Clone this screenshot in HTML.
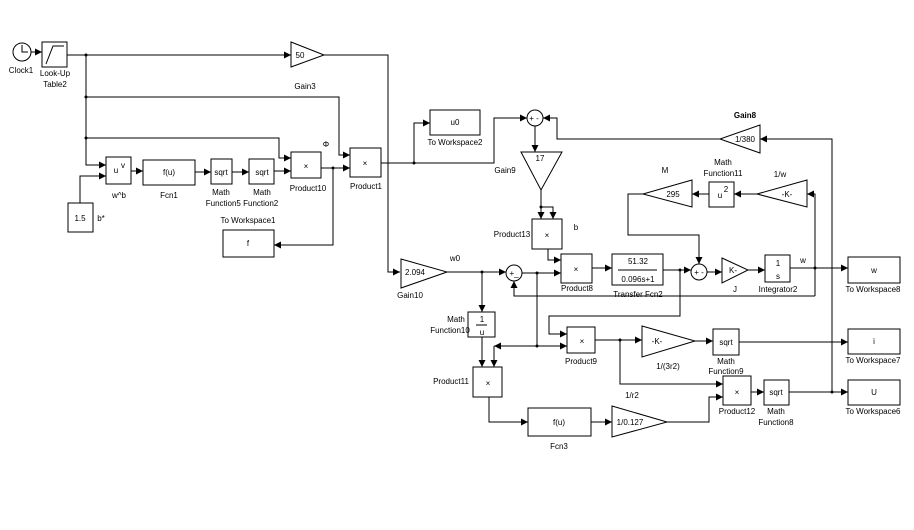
<!DOCTYPE html>
<html><head><meta charset="utf-8"><style>
html,body{margin:0;padding:0;background:#fff}
svg{display:block}
text{font-family:"Liberation Sans",Arial,sans-serif;font-size:8px;fill:#000}
</style></head><body>
<svg width="914" height="530" viewBox="0 0 914 530" xmlns="http://www.w3.org/2000/svg">
<defs><marker id="a" markerWidth="8" markerHeight="8" refX="7" refY="4" orient="auto" markerUnits="userSpaceOnUse"><path d="M0,0.5 L7,4 L0,7.5 z" fill="#000"/></marker></defs>
<g fill="none" stroke="#000" stroke-width="1" marker-end="url(#a)">
<path d="M31,52 H42"/>
<path d="M67,55 H291"/>
<path d="M324,55 H388 V272 H400"/>
<path d="M86,55 V165 H106"/>
<path d="M86,97 H339 V155 H350"/>
<path d="M86,138 H279 V158 H291"/>
<path d="M80,203 V176 H106"/>
<path d="M131,171 H143"/>
<path d="M195,172 H211"/>
<path d="M232,172 H249"/>
<path d="M274,171 H291"/>
<path d="M321,168 H350"/>
<path d="M333,168 V245 H274"/>
<path d="M381,163 H414 V123 H430"/>
<path d="M414,163 H494 V118 H527"/>
<path d="M720,139 H557 V118 H543"/>
<path d="M535,126 V152"/>
<path d="M541,190 V219"/>
<path d="M541,207 H553 V219"/>
<path d="M548,249 V260 H561"/>
<path d="M446,272 H506"/>
<path d="M482,272 V312"/>
<path d="M522,273 H561"/>
<path d="M537,273 V346 H567"/>
<path d="M494,346 V367"/>
<path d="M537,346 H494"/>
<path d="M815,296 H514 V281"/>
<path d="M592,268 H612"/>
<path d="M663,270 H691"/>
<path d="M680,270 V316 H549 V334 H567"/>
<path d="M707,272 H722"/>
<path d="M748,270 H765"/>
<path d="M790,268 H848"/>
<path d="M815,268 V194 H807"/>
<path d="M757,194 H734"/>
<path d="M709,194 H692"/>
<path d="M643,194 H628 V235 H699 V264"/>
<path d="M595,340 H642"/>
<path d="M695,341 H713"/>
<path d="M739,342 H848"/>
<path d="M620,340 V384 H723"/>
<path d="M751,392 H764"/>
<path d="M789,392 H848"/>
<path d="M832,392 V139 H760"/>
<path d="M482,337 V367"/>
<path d="M489,397 V422 H528"/>
<path d="M591,422 H612"/>
<path d="M667,422 H709 V397 H723"/>
</g>
<path d="M815,268 V296" stroke="#000" fill="none"/>
<g fill="#000"><circle cx="86" cy="55" r="1.5"/><circle cx="86" cy="97" r="1.5"/><circle cx="86" cy="138" r="1.5"/><circle cx="333" cy="168" r="1.5"/><circle cx="414" cy="163" r="1.5"/><circle cx="482" cy="272" r="1.5"/><circle cx="537" cy="273" r="1.5"/><circle cx="537" cy="346" r="1.5"/><circle cx="680" cy="270" r="1.5"/><circle cx="815" cy="268" r="1.5"/><circle cx="620" cy="340" r="1.5"/><circle cx="832" cy="392" r="1.5"/><circle cx="541" cy="207" r="1.5"/></g>
<g fill="#fff" stroke="#000" stroke-width="1">
<circle cx="22" cy="52" r="9"/>
<rect x="42" y="42" width="25" height="25"/>
<polygon points="291,42 324,55 291,67"/>
<rect x="106" y="157" width="25" height="27"/>
<rect x="68" y="203" width="25" height="29"/>
<rect x="143" y="160" width="52" height="25"/>
<rect x="211" y="159" width="21" height="25"/>
<rect x="249" y="159" width="25" height="25"/>
<rect x="291" y="152" width="30" height="26"/>
<rect x="350" y="148" width="31" height="29"/>
<rect x="223" y="230" width="51" height="27"/>
<rect x="430" y="110" width="50" height="25"/>
<circle cx="535" cy="118" r="8"/>
<polygon points="760,125 720,139 760,153"/>
<polygon points="521,152 562,152 541,190"/>
<rect x="532" y="219" width="30" height="30"/>
<rect x="561" y="254" width="31" height="29"/>
<polygon points="401,259 447,272 401,288"/>
<circle cx="514" cy="273" r="8"/>
<rect x="468" y="312" width="27" height="25"/>
<rect x="612" y="254" width="51" height="31"/>
<circle cx="699" cy="272" r="8"/>
<polygon points="722,258 748,270 722,283"/>
<rect x="765" y="255" width="25" height="27"/>
<rect x="848" y="257" width="52" height="26"/>
<polygon points="807,180 757,194 807,207"/>
<rect x="709" y="182" width="25" height="25"/>
<polygon points="692,180 643,194 692,207"/>
<rect x="567" y="327" width="28" height="26"/>
<polygon points="642,326 695,341 642,357"/>
<rect x="713" y="329" width="26" height="26"/>
<rect x="848" y="329" width="52" height="25"/>
<rect x="723" y="376" width="28" height="29"/>
<rect x="764" y="380" width="25" height="25"/>
<rect x="848" y="380" width="52" height="25"/>
<rect x="473" y="367" width="29" height="30"/>
<rect x="528" y="408" width="63" height="28"/>
<polygon points="612,406 667,422 612,437"/>
</g>
<g stroke="#000" fill="none"><path d="M22,45 V52 H28"/><path d="M46,64 L53,46 H64"/><path d="M476,325 H487"/><path d="M618,270 H657"/></g>
<g text-anchor="middle">
<text x="21" y="73">Clock1</text>
<text x="55" y="76">Look-Up</text><text x="55" y="87">Table2</text>
<text x="300" y="58">50</text><text x="305" y="89">Gain3</text>
<text x="116" y="173">u</text><text x="123" y="168" font-size="6">v</text><text x="119" y="198">w^b</text>
<text x="80" y="221">1.5</text><text x="101" y="221">b*</text>
<text x="169" y="175">f(u)</text><text x="169" y="198">Fcn1</text>
<text x="221" y="175">sqrt</text><text x="221" y="195">Math</text>
<text x="262" y="175">sqrt</text><text x="262" y="195">Math</text>
<text x="242" y="206">Function5 Function2</text>
<text x="306" y="169" font-size="10">×</text><text x="308" y="191">Product10</text><text x="326" y="147">Φ</text>
<text x="365" y="166" font-size="10">×</text><text x="366" y="189">Product1</text>
<text x="248" y="223">To Workspace1</text><text x="248" y="246">f</text>
<text x="455" y="125">u0</text><text x="455" y="145">To Workspace2</text>
<text x="534" y="121">+ -</text>
<text x="745" y="142">1/380</text><text x="745" y="118" font-weight="bold">Gain8</text>
<text x="540" y="161">17</text><text x="505" y="173">Gain9</text>
<text x="547" y="238" font-size="10">×</text><text x="512" y="237">Product13</text><text x="576" y="230">b</text>
<text x="576" y="272" font-size="10">×</text><text x="577" y="291">Product8</text>
<text x="415" y="275">2.094</text><text x="455" y="261">w0</text><text x="410" y="298">Gain10</text>
<text x="514" y="276">+_</text>
<text x="482" y="322">1</text><text x="482" y="335">u</text>
<text x="456" y="322">Math</text><text x="450" y="333">Function10</text>
<text x="638" y="264">51.32</text><text x="638" y="282">0.096s+1</text><text x="638" y="297">Transfer Fcn2</text>
<text x="699" y="275">+ -</text>
<text x="733" y="273">K-</text><text x="735" y="292">J</text>
<text x="778" y="266">1</text><text x="778" y="279">s</text><text x="778" y="292">Integrator2</text><text x="803" y="263">w</text>
<text x="874" y="273">w</text><text x="873" y="292">To Workspace8</text>
<text x="787" y="197">-K-</text><text x="780" y="177">1/w</text>
<text x="720" y="198">u</text><text x="726" y="192" font-size="6">2</text><text x="723" y="165">Math</text><text x="723" y="176">Function11</text>
<text x="673" y="197">295</text><text x="665" y="173">M</text>
<text x="582" y="344" font-size="10">×</text><text x="581" y="364">Product9</text>
<text x="657" y="344">-K-</text><text x="668" y="369">1/(3r2)</text>
<text x="726" y="345">sqrt</text><text x="726" y="364">Math</text><text x="726" y="374">Function9</text>
<text x="874" y="344">i</text><text x="873" y="363">To Workspace7</text>
<text x="737" y="395" font-size="10">×</text><text x="737" y="414">Product12</text>
<text x="776" y="395">sqrt</text><text x="776" y="414">Math</text><text x="776" y="425">Function8</text>
<text x="874" y="395">U</text><text x="873" y="414">To Workspace6</text>
<text x="488" y="386" font-size="10">×</text><text x="451" y="384">Product11</text>
<text x="559" y="425">f(u)</text><text x="559" y="449">Fcn3</text>
<text x="630" y="425">1/0.127</text><text x="632" y="398">1/r2</text>
</g>
</svg>
</body></html>
